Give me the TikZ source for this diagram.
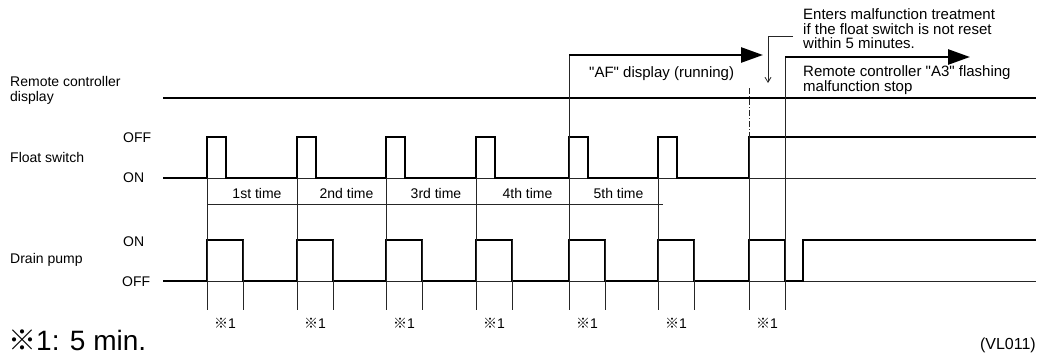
\documentclass[tikz,border=0pt]{standalone}
\usepackage{fontspec}
\setmainfont{Liberation Sans}[Ligatures=TeXOff]
\newfontfamily\cjk{Noto Sans CJK JP}
\usetikzlibrary{arrows.meta}
\colorlet{signal}{black}
\colorlet{guides}{black!85}
\newcommand{\komemark}{{\cjk ※}}

\begin{document}
\begin{tikzpicture}[x=1pt, y=-1pt,
        sig/.style={signal, line width=2.4pt, line join=miter},
        guide/.style={guides, line width=0.8pt},
        lbl/.style={font=\fontsize{14}{15}\selectfont, inner sep=0pt},
        toplbl/.style={font=\fontsize{15}{14.5}\selectfont, inner sep=0pt},
        bigarrow/.style={line width=2.6pt, -{Triangle[length=22pt,width=15pt]}}]
        \useasboundingbox (0,0) rectangle (1039,356);
        % row labels
        \node[lbl, anchor=west, align=left] (remlbl) at (10,90.5) {Remote controller\\display};
        \node[lbl, anchor=west] (floatlbl) at (10,157) {Float switch};
        \node[lbl, anchor=west] (pumplbl) at (10,260) {Drain pump};
        \node[lbl, anchor=west] (floatoff) at (123,138) {OFF};
        \node[lbl, anchor=west] (floaton) at (123,178) {ON};
        \node[lbl, anchor=west] (pumpon) at (123,242) {ON};
        \node[lbl, anchor=west] (pumpoff) at (122,282) {OFF};
        % thin base lines
        \draw[guide] (163,178) -- (1036,178);
        \draw[guide] (163,281) -- (1036,281);
        \draw[guide] (207,204) -- (663,204);
        % remote controller display
        \draw[sig] (163,98) -- (1036,98);
        % float switch
        \draw[sig] (163,178)
            foreach \x in {207,297,386,476,569,658}
            {
                -- (\x,178) -- (\x,137) -- (\x+19,137) -- (\x+19,178)
            }
            -- (749,178) -- (749,137) -- (1036,137);
        % drain pump
        \draw[sig] (163,281)
            foreach \x in {207,297,386,476,569,658,749}
            {
                -- (\x,281) -- (\x,240) -- (\x+36,240) -- (\x+36,281)
            }
            -- (803,281) -- (803,240) -- (1036,240);
        % time marks
        \foreach \x in {207,297,386,476,658}
        {
            \draw[guide] (\x,178) -- (\x,310);
        }
        \foreach \x in {207,297,386,476,569,658}
        {
            \draw[guide] (\x+36,240) -- (\x+36,310);
        }
        \foreach \x in {207,297,386,476,569,658,749}
        {
            \node[font=\fontsize{14}{14}\selectfont, inner sep=0pt] (mark\x) at (\x+18,323) {\komemark 1};
        }
        \draw[guide] (569,55) -- (569,310);
        \draw[guide] (749,137) -- (749,310);
        \draw[guide, dash pattern=on 6pt off 2pt on 1pt off 2pt] (749,88) -- (749,137);
        \draw[guide] (785,57) -- (785,310);
        % counts
        \foreach \a/\b/\t in {207/297/1st, 297/386/2nd, 386/476/3rd, 476/569/4th, 569/658/5th}
        {
            \node[lbl] (cnt\t) at ({(\a+\b)/2+5},193) {\t\ time};
        }
        % display arrows
        \coordinate (afstart) at (569,55);
        \coordinate (afend) at (763,55);
        \coordinate (atstart) at (785,57);
        \coordinate (atend) at (970,57);
        \draw[bigarrow] (afstart) -- (afend);
        \draw[bigarrow] (atstart) -- (atend);
        \node[toplbl, anchor=west] (aftext) at (589,74) {"AF" display (running)};
        \node[toplbl, anchor=west, align=left] (a3text) at (803,80) {Remote controller "A3" flashing\\malfunction stop};
        % malfunction note
        \node[toplbl, anchor=west, align=left] (note) at (803,29)
            {Enters malfunction treatment\\if the float switch is not reset\\within 5 minutes.};
        \coordinate (notein) at (793,36);
        \coordinate (notebend) at (768,36);
        \coordinate (notetip) at (768,83);
        \draw[guide, -{Straight Barb[length=5pt,width=6pt]}] (notein) -- (notebend) -- (notetip);
        % footnotes
        \node[anchor=west, inner sep=0pt, font=\fontsize{28}{28}\selectfont] (legend) at (8,340) {\komemark 1: 5 min.};
        \node[anchor=east, inner sep=0pt, font=\fontsize{16}{16}\selectfont] (code) at (1036,345) {(VL011)};
    \end{tikzpicture}
\end{document}
